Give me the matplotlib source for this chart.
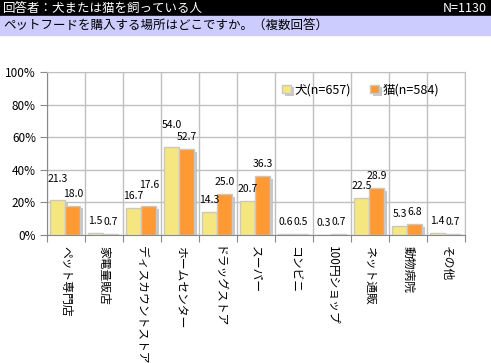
import matplotlib
matplotlib.use("Agg")
import matplotlib.pyplot as plt
import matplotlib.patheffects as pe
import numpy as np

plt.rcParams['font.family'] = ['Noto Sans CJK JP', 'DejaVu Sans']

categories = ["ペット専門店", "家電量販店", "ディスカウントストア", "ホームセンター",
              "ドラッグストア", "スーパー", "コンビニ", "100円ショップ",
              "ネット通販", "動物病院", "その他"]
dog = [21.3, 1.5, 16.7, 54.0, 14.3, 20.7, 0.6, 0.3, 22.5, 5.3, 1.4]
cat = [18.0, 0.7, 17.6, 52.7, 25.0, 36.3, 0.5, 0.7, 28.9, 6.8, 0.7]
series_names = ["犬(n=657)", "猫(n=584)"]
yticks = [0, 20, 40, 60, 80, 100]

W, H = 491, 363
fig = plt.figure(figsize=(W / 100, H / 100), dpi=100)

# header bands
fig.patches.append(plt.Rectangle((0, 1 - 16 / H), 1, 16 / H, transform=fig.transFigure,
                                 color="black", zorder=0))
fig.patches.append(plt.Rectangle((0, 1 - 35 / H), 1, 19 / H, transform=fig.transFigure,
                                 color="#CCCCFF", zorder=0))
fig.text(3 / W, 1 - 8 / H, "回答者：犬または猫を飼っている人", color="white",
         fontsize=9, va="center", ha="left")
fig.text(1 - 4 / W, 1 - 8 / H, "N=1130", color="white", fontsize=9, va="center", ha="right")
fig.text(3 / W, 1 - 25.5 / H, "ペットフードを購入する場所はどこですか。（複数回答）",
         color="black", fontsize=9, va="center", ha="left")

ax = fig.add_axes([47 / W, 1 - 235 / H, (465 - 47) / W, (235 - 72) / H])
x = np.arange(len(categories))
bw = 0.4
shadow = [pe.SimplePatchShadow(offset=(2, -2), shadow_rgbFace="#BBBBBB", alpha=0.8),
          pe.Normal()]
b1 = ax.bar(x - bw / 2 - 0.02, dog, bw, color="#F5E680", edgecolor="#C8C8C8",
            linewidth=1, zorder=3, label=series_names[0], path_effects=shadow)
b2 = ax.bar(x + bw / 2 - 0.02, cat, bw, color="#FF9933", edgecolor="#C8C8C8",
            linewidth=1, zorder=3, label=series_names[1], path_effects=shadow)

# value labels; when a pair of tall labels would collide, lift the larger one
for i, (rd, rc) in enumerate(zip(b1, b2)):
    d, c = dog[i], cat[i]
    clash = min(d, c) >= 10 and abs(d - c) < 6
    for r, v, other in ((rd, d, c), (rc, c, d)):
        dy = 5 + (7 if clash and v >= other else 0)
        ax.annotate(f"{v:.1f}", (r.get_x() + r.get_width() / 2, v),
                    xytext=(0, dy), textcoords="offset points", ha="center",
                    va="bottom", fontsize=7.5, zorder=4)

ax.set_xlim(-0.5, len(categories) - 0.5)
ax.set_ylim(0, 100)
ax.set_yticks(yticks)
ax.set_yticklabels([f"{t}%" for t in yticks], fontsize=8.5)
ax.set_xticks(np.arange(len(categories) + 1) - 0.5, minor=False)
ax.set_xticklabels([])
ax.set_xticks(x, minor=True)
ax.set_xticklabels(categories, minor=True, rotation=270, fontsize=8.5,
                   va="top", ha="center")
ax.tick_params(axis="x", which="minor", length=0, pad=8)
ax.tick_params(axis="x", which="major", length=5, color="#888888")
ax.tick_params(axis="y", length=5, color="#888888", pad=3)
ax.grid(True, which="major", color="#C0C0C0", linewidth=1, zorder=0)
for s in ax.spines.values():
    s.set_color("#C0C0C0")
ax.spines["left"].set_color("#888888")
ax.spines["bottom"].set_color("#888888")

ax.legend(loc="upper right", bbox_to_anchor=(0.965, 1.0), ncol=2, frameon=False,
          fontsize=9, handlelength=0.7, handleheight=0.7, handletextpad=0.3,
          columnspacing=1.5)

fig.savefig("out.png", dpi=100)
